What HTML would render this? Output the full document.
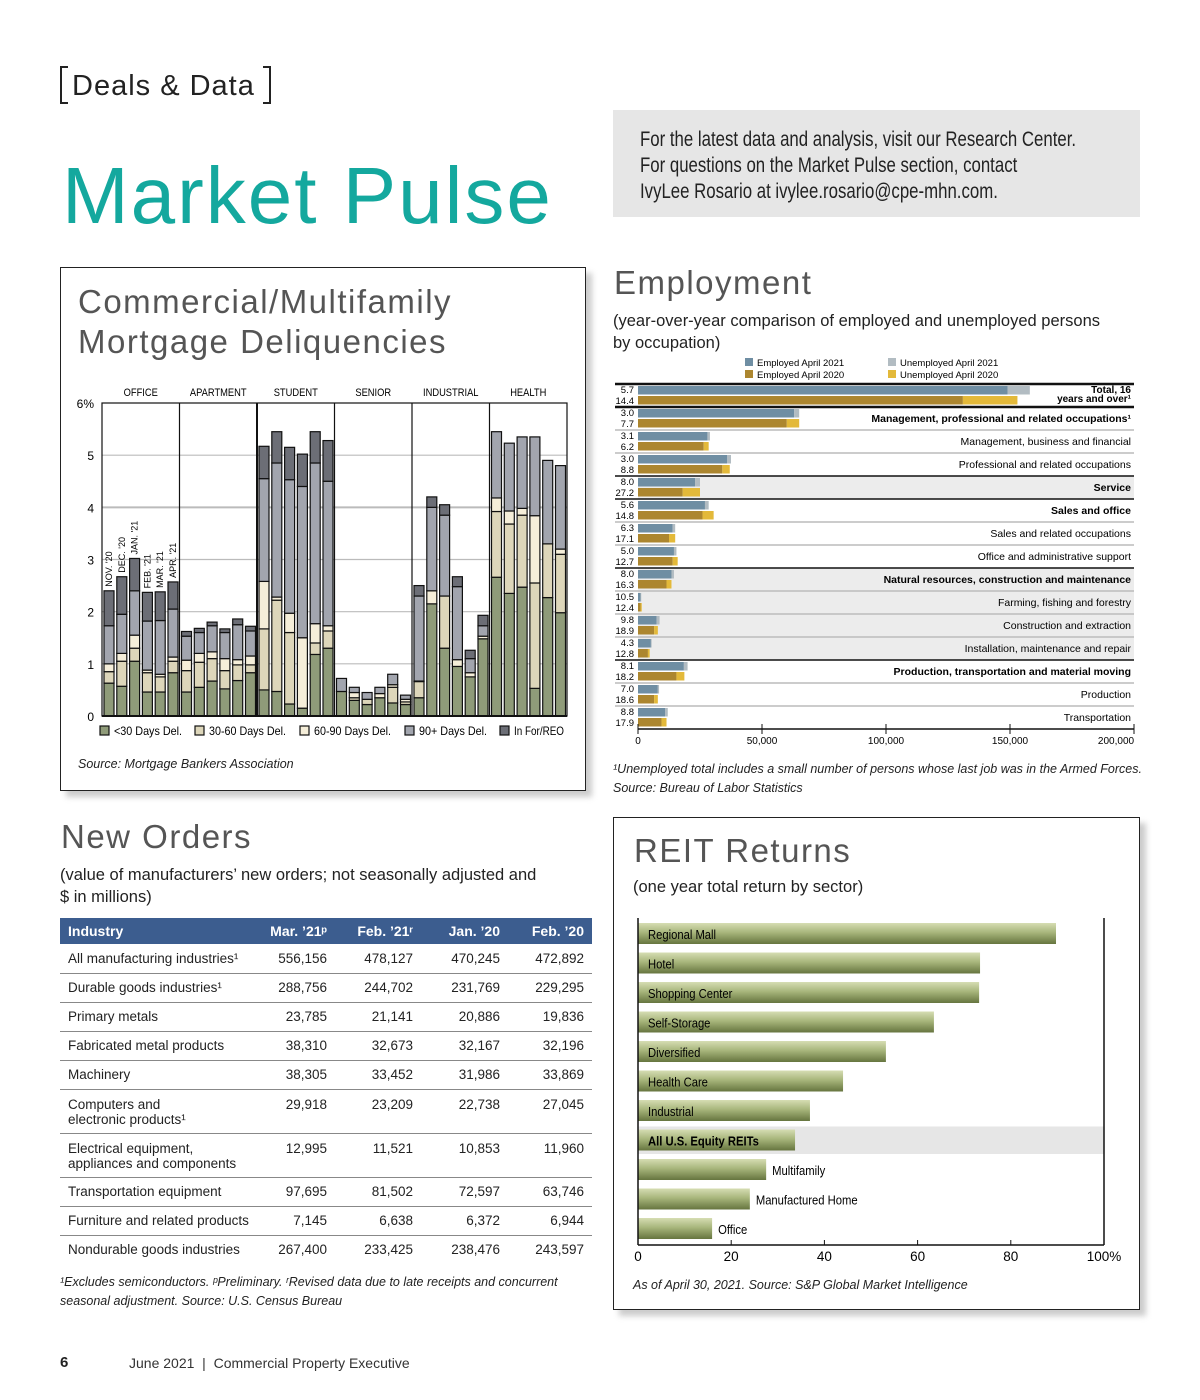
<!DOCTYPE html>
<html><head><meta charset="utf-8"><style>
*{margin:0;padding:0;box-sizing:border-box}
body{width:1200px;height:1400px;background:#fff;position:relative;font-family:"Liberation Sans",sans-serif;color:#222;overflow:hidden}
.abs{position:absolute}
table{border-collapse:collapse;table-layout:fixed}
</style></head><body>
<div class="abs" style="left:60px;top:66px;width:211px;height:38px;border-left:2px solid #222;border-right:2px solid #222;font-size:29px;line-height:40px;padding-left:10px;letter-spacing:1px;white-space:nowrap">Deals &amp; Data</div>
<div class="abs" style="left:60px;top:66px;width:8px;border-top:2px solid #222"></div><div class="abs" style="left:60px;top:102px;width:8px;border-top:2px solid #222"></div>
<div class="abs" style="left:263px;top:66px;width:8px;border-top:2px solid #222"></div><div class="abs" style="left:263px;top:102px;width:8px;border-top:2px solid #222"></div>
<div class="abs" style="left:62px;top:148px;font-size:80px;color:#14a89e;letter-spacing:2px;line-height:95px">Market Pulse</div>
<div class="abs" style="left:613px;top:110px;width:527px;height:107px;background:#e6e6e6"></div>
<div class="abs" style="left:640px;top:127px;font-size:21px;line-height:26px;color:#222;white-space:nowrap;transform:scaleX(0.8);transform-origin:0 0">For the latest data and analysis, visit our Research Center.<br>For questions on the Market Pulse section, contact<br>IvyLee Rosario at ivylee.rosario@cpe-mhn.com.</div>

<!-- Delinquency panel -->
<div class="abs" style="left:66px;top:273px;width:526px;height:524px;background:#ccc;filter:blur(3px)"></div>
<div class="abs" style="left:60px;top:267px;width:526px;height:524px;background:#fff;border:1.5px solid #222"></div>
<div class="abs" style="left:78px;top:282px;font-size:33px;line-height:40px;color:#555;letter-spacing:1.5px">Commercial/Multifamily<br>Mortgage Deliquencies</div>
<svg class="abs" id="delsvg" style="left:0;top:0" width="600" height="800"></svg>
<div class="abs" style="left:78px;top:757px;font-size:12.5px;font-style:italic">Source: Mortgage Bankers Association</div>

<!-- Employment -->
<div class="abs" style="left:614px;top:264px;font-size:33px;color:#555;letter-spacing:1.5px">Employment</div>
<div class="abs" style="left:613px;top:310px;font-size:16.5px;line-height:22px">(year-over-year comparison of employed and unemployed persons<br>by occupation)</div>
<svg class="abs" id="empsvg" style="left:0;top:0" width="1200" height="760"></svg>
<div class="abs" style="left:613px;top:760px;font-size:12.5px;font-style:italic;line-height:19px">¹Unemployed total includes a small number of persons whose last job was in the Armed Forces.<br>Source: Bureau of Labor Statistics</div>

<!-- New orders -->
<div class="abs" style="left:61px;top:818px;font-size:33px;color:#555;letter-spacing:1.5px">New Orders</div>
<div class="abs" style="left:60px;top:864px;font-size:16.5px;line-height:22px">(value of manufacturers’ new orders; not seasonally adjusted and<br>$ in millions)</div>
<table class="abs" style="left:60px;top:918px;width:532px;font-size:13.5px">
<colgroup><col style="width:200px"><col style="width:75px"><col style="width:86px"><col style="width:87px"><col style="width:84px"></colgroup>
<thead><tr style="background:#3c5d8f;color:#fff;font-weight:bold;height:26px;font-size:14px">
<td style="padding-left:8px">Industry</td><td style="text-align:right;padding-right:8px">Mar. ’21ᵖ</td><td style="text-align:right;padding-right:8px">Feb. ’21ʳ</td><td style="text-align:right;padding-right:8px">Jan. ’20</td><td style="text-align:right;padding-right:8px">Feb. ’20</td></tr></thead>
<tbody id="ordbody"></tbody></table>
<div class="abs" style="left:60px;top:1273px;font-size:12.5px;font-style:italic;line-height:19px">¹Excludes semiconductors. ᵖPreliminary. ʳRevised data due to late receipts and concurrent<br>seasonal adjustment. Source: U.S. Census Bureau</div>

<!-- REIT -->
<div class="abs" style="left:619px;top:823px;width:527px;height:493px;background:#ccc;filter:blur(3px)"></div>
<div class="abs" style="left:613px;top:817px;width:527px;height:493px;background:#fff;border:1.5px solid #222"></div>
<div class="abs" style="left:634px;top:832px;font-size:33px;color:#555;letter-spacing:1.5px">REIT Returns</div>
<div class="abs" style="left:633px;top:878px;font-size:16.5px">(one year total return by sector)</div>
<svg class="abs" id="reitsvg" style="left:0;top:0" width="1200" height="1280"></svg>
<div class="abs" style="left:633px;top:1278px;font-size:12.5px;font-style:italic">As of April 30, 2021. Source: S&amp;P Global Market Intelligence</div>

<div class="abs" style="left:60px;top:1354px;font-size:15px;font-weight:bold">6</div>
<div class="abs" style="left:129px;top:1355px;font-size:14px;color:#333">June 2021 &nbsp;|&nbsp; Commercial Property Executive</div>

<script>
const NS="http://www.w3.org/2000/svg";
function mk(p,t,a){const e=document.createElementNS(NS,t);for(const k in a)e.setAttribute(k,a[k]);p.appendChild(e);return e;}

// ===== Delinquency data =====
const delGroups=["OFFICE","APARTMENT","STUDENT","SENIOR","INDUSTRIAL","HEALTH"];
const delMonths=["NOV. '20","DEC. '20","JAN. '21","FEB. '21","MAR. '21","APR. '21"];
const delSeries=["<30 Days Del.","30-60 Days Del.","60-90 Days Del.","90+ Days Del.","In For/REO"];
const under30=[.63,.57,1.05,.46,.46,.83, .46,.55,.67,.52,.68,.83, .5,.47,.23,.15,1.18,1.3, .47,.3,.22,.35,.25,.22, .35,2.15,1.3,.95,.75,1.48, 2.66,2.35,2.47,.53,2.27,1.98];
const d30to60=[.22,.48,.25,.37,.29,.22, .41,.48,.43,.35,.3,.15, 1.17,1.75,1.37,0,.22,.33, 0,.05,.1,0,.3,.05, .31,0,1.0,0,0,0, 1.26,1.33,1.38,2.02,1.03,1.12];
const d60to90=[.15,.15,.25,.05,.05,.08, .2,.17,.13,.23,.1,.17, .91,.06,.37,1.35,.37,.1, 0,.1,0,.08,.05,.05, .01,.25,0,.13,.08,.05, .26,.25,.13,1.29,0,.1];
const d90plus=[.73,.75,.85,.94,1.03,.92, .46,.4,.5,.5,.67,.48, 1.97,2.57,2.56,2.9,3.08,2.77, .25,.1,.13,.12,.2,.08, 1.63,1.6,1.55,1.4,.27,.2, 1.27,1.3,1.37,1.51,1.6,1.6];
const reo=[.67,.72,.62,.55,.55,.52, .09,.08,.07,.07,.11,.09, .62,.6,.62,.62,.6,.78, 0,0,0,0,0,0, .2,.2,.2,.19,.16,.2, 0,0,0,0,0,0];
const delTicks=[0,1,2,3,4,5,6];
const delColors=["#8f9b79","#ddd6ba","#f5eed9","#a2a5ae","#6c6e76"];
(function(){
 const s=document.getElementById('delsvg');
 const X0=102,X1=567,Y0=716,Y1=403;
 const y=v=>Y0-(v/6)*(Y0-Y1);
 const gw=(X1-X0)/delGroups.length;
 const bx=i=>X0+Math.floor(i/6)*gw+2+(i%6)*12.8;
 delTicks.forEach(t=>{
  if(t>0&&t<6){const l=mk(s,'line',{x1:X0,x2:X1,y1:y(t),y2:y(t),stroke:'#bbb','stroke-width':t==4?2:1.2});
  
  }
  const tx=mk(s,'text',{x:94,y:y(t)+5,'text-anchor':'end','font-size':12});
  tx.textContent=t==6?'6%':t;
  
  
 });
 mk(s,'rect',{x:X0,y:Y1,width:X1-X0,height:Y0-Y1,fill:'none',stroke:'#111','stroke-width':1.2});
 delGroups.forEach((g,i)=>{
  if(i>0){const l=mk(s,'line',{x1:X0+i*gw,x2:X0+i*gw,y1:Y1,y2:Y0,stroke:'#111','stroke-width':i==2?2:1.2});
  
  }
  const t=mk(s,'text',{x:X0+i*gw+gw/2,y:396,'text-anchor':'middle','font-size':11,transform:`translate(${(X0+i*gw+gw/2)*0.15} 0) scale(0.85 1)`});
  t.textContent=g;
  
  
 });
 const series=[under30,d30to60,d60to90,d90plus,reo];
 for(let i=0;i<under30.length;i++){
  let cum=0;
  series.forEach((arr,k)=>{
   const v=arr[i]; if(v<=0){return;}
   const r=mk(s,'rect',{x:bx(i),y:y(cum+v),width:10,height:y(cum)-y(cum+v),fill:delColors[k],stroke:'#111','stroke-width':1.2});
   
   
   cum+=v;
  });
  if(i<6){const tx=bx(i)+8,ty=y(cum)-4;
   const t=mk(s,'text',{x:tx,y:ty,transform:`rotate(-90 ${tx} ${ty})`,'font-size':9});
   t.textContent=delMonths[i];
   
   }
 }
 mk(s,'line',{x1:X0,x2:X1,y1:Y0,y2:Y0,stroke:'#111','stroke-width':2});
 const lx=[100,195,300,405,500];
 const lw=[68,77,77,68,50];
 delSeries.forEach((n,k)=>{
  const r=mk(s,'rect',{x:lx[k],y:726,width:9,height:9,fill:delColors[k],stroke:'#111','stroke-width':1.2});
  
  
  const t=mk(s,'text',{x:lx[k]+14,y:735,'font-size':12,textLength:lw[k],lengthAdjust:'spacingAndGlyphs'});
  t.textContent=n;
  
  
 });
})();

// ===== Employment data =====
const empCats=["Total, 16|years and over¹","Management, professional and related occupations¹","Management, business and financial","Professional and related occupations","Service","Sales and office","Sales and related occupations","Office and administrative support","Natural resources, construction and maintenance","Farming, fishing and forestry","Construction and extraction","Installation, maintenance and repair","Production, transportation and material moving","Production","Transportation"];
const emp2021=[149,63,28,36,23,27,14,14.5,13.5,1,7.5,5.2,18.5,8,11];
const unemp2021=[9,2,1,1.5,2,1.5,1,1,1,.3,1.2,.3,1.5,.5,1];
const emp2020=[131,60,26.5,34,18,26,12.5,14,11.5,1,6.5,4,15.5,6.5,9.5];
const unemp2020=[22,5,2,3,7,4.5,2.5,2,2,.5,1.5,.7,3.2,1.5,2];
const rate2021=["5.7","3.0","3.1","3.0","8.0","5.6","6.3","5.0","8.0","10.5","9.8","4.3","8.1","7.0","8.8"];
const rate2020=["14.4","7.7","6.2","8.8","27.2","14.8","17.1","12.7","16.3","12.4","18.9","12.8","18.2","18.6","17.9"];
const empTicks=[0,50000,100000,150000,200000];
const empBold=[0,1,4,5,8,12];
const empShade=[4,8,9,10,11];
(function(){
 const s=document.getElementById('empsvg');
 const X0=638,X1=1134,T=384,RH=23;
 const x=v=>X0+(v/200)*(X1-X0);
 const lg=[["#6f8ea3","Employed April 2021",745,358],["#ac862f","Employed April 2020",745,370],["#b2bcc2","Unemployed April 2021",888,358],["#e3b93a","Unemployed April 2020",888,370]];
 lg.forEach(l=>{const r=mk(s,'rect',{x:l[2],y:l[3],width:8,height:8,fill:l[0]});
  
  
  const t=mk(s,'text',{x:l[2]+12,y:l[3]+8,'font-size':9.5});t.textContent=l[1];
  
  });
 empCats.forEach((c,r)=>{
  const top=T+r*RH;
  if(empShade.includes(r)){const b=mk(s,'rect',{x:638,y:top,width:496,height:RH,fill:'#ececec'});
   
   }
  const heavy=empBold.includes(r);
  const ln=mk(s,'line',{x1:615,x2:1134,y1:top,y2:top,stroke:heavy?'#111':'#bbb','stroke-width':heavy?(r==0||r==1?2.5:1.5):1.5});
  
  
  const bars=[[0,emp2021[r],'#6f8ea3',top+2],[emp2021[r],emp2021[r]+unemp2021[r],'#b2bcc2',top+2],[0,emp2020[r],'#ac862f',top+12],[emp2020[r],emp2020[r]+unemp2020[r],'#e3b93a',top+12]];
  bars.forEach(b=>{const e=mk(s,'rect',{x:x(b[0]),y:b[3],width:x(b[1])-x(b[0]),height:8.5,fill:b[2]});
   
   });
  [[rate2021[r],top+9],[rate2020[r],top+20]].forEach(q=>{const t=mk(s,'text',{x:634,y:q[1],'text-anchor':'end','font-size':9.5});t.textContent=q[0];
   
   });
  const parts=c.split('|');
  parts.forEach((p,j)=>{const t=mk(s,'text',{x:1131,y:parts.length>1?top+9+j*9:top+15,'text-anchor':'end','font-size':parts.length>1?10:10.5,'font-weight':empBold.includes(r)?'bold':'normal'});t.textContent=p;
   
   });
 });
 mk(s,'line',{x1:X0,x2:X1,y1:729,y2:729,stroke:'#111','stroke-width':1.5});
 empTicks.forEach(v=>{const l=mk(s,'line',{x1:x(v/1000),x2:x(v/1000),y1:724,y2:734,stroke:'#111'});
  
  
  const t=mk(s,'text',{x:x(v/1000)-(v==200000?18:0),y:744,'text-anchor':'middle','font-size':10});t.textContent=v.toLocaleString('en-US');
  
  });
})();

// ===== New orders =====
const ordRows=[["All manufacturing industries¹","556,156","478,127","470,245","472,892"],["Durable goods industries¹","288,756","244,702","231,769","229,295"],["Primary metals","23,785","21,141","20,886","19,836"],["Fabricated metal products","38,310","32,673","32,167","32,196"],["Machinery","38,305","33,452","31,986","33,869"],["Computers and<br>electronic products¹","29,918","23,209","22,738","27,045"],["Electrical equipment,<br>appliances and components","12,995","11,521","10,853","11,960"],["Transportation equipment","97,695","81,502","72,597","63,746"],["Furniture and related products","7,145","6,638","6,372","6,944"],["Nondurable goods industries","267,400","233,425","238,476","243,597"]];
(function(){
 const tb=document.getElementById('ordbody');
 ordRows.forEach((r,i)=>{
  const tr=document.createElement('tr');
  
  
  const tall=r[0].includes('<br>');
  tr.style.height=tall?'44px':'29px';
  tr.style.borderBottom=i<ordRows.length-1?'1px solid #888':'none';
  tr.style.verticalAlign=tall?'top':'middle';
  r.forEach((c,j)=>{const td=document.createElement('td');td.innerHTML=c;td.style.lineHeight='15px';td.style.whiteSpace='nowrap';
   if(tall)td.style.paddingTop='7px';
   if(j==0){td.style.paddingLeft='8px';}else{td.style.textAlign='right';td.style.paddingRight='8px';}
   tr.appendChild(td);});
  tb.appendChild(tr);
 });
})();

// ===== REIT =====
const reitCats=["Regional Mall","Hotel","Shopping Center","Self-Storage","Diversified","Health Care","Industrial","All U.S. Equity REITs","Multifamily","Manufactured Home","Office"];
const reitVals=[89.7,73.4,73.2,63.5,53.2,44,36.9,33.7,27.5,24,15.9];
const reitTicks=[0,20,40,60,80,100];
(function(){
 const s=document.getElementById('reitsvg');
 const d=mk(s,'defs',{});
 const g=mk(d,'linearGradient',{id:'rg',x1:0,y1:0,x2:0,y2:1});
 mk(g,'stop',{offset:0,'stop-color':'#d6ddb3'});mk(g,'stop',{offset:0.45,'stop-color':'#a8b67c'});mk(g,'stop',{offset:1,'stop-color':'#66753f'});
 const X0=638,X1=1104;const x=v=>X0+v/100*(X1-X0);
 const T=923,RH=29.5;
 mk(s,'rect',{x:X0,y:T+7*RH-3,width:X1-X0,height:RH-2,fill:'#e6e6e6'});
 reitCats.forEach((c,i)=>{
  const y=T+i*RH;
  const b=mk(s,'rect',{x:X0,y:y,width:x(reitVals[i])-X0,height:21,fill:'url(#rg)'});
  
  
  const outside=x(reitVals[i])-X0<130;
  const t=mk(s,'text',{x:outside?x(reitVals[i])+6:X0+10,y:y+16,'font-size':12.5,'font-weight':i==7?'bold':'normal',transform:`translate(${(outside?x(reitVals[i])+6:X0+10)*0.1} 0) scale(0.9 1)`});
  t.textContent=c;
  
  
 });
 mk(s,'line',{x1:X0,x2:X0,y1:918,y2:1245,stroke:'#111','stroke-width':1.5});
 mk(s,'line',{x1:X1,x2:X1,y1:918,y2:1245,stroke:'#111','stroke-width':1.5});
 mk(s,'line',{x1:X0,x2:X1,y1:1245,y2:1245,stroke:'#111','stroke-width':1.5});
 reitTicks.forEach(v=>{const l=mk(s,'line',{x1:x(v),x2:x(v),y1:1240,y2:1245,stroke:'#111'});
  
  
  const t=mk(s,'text',{x:x(v),y:1261,'text-anchor':'middle','font-size':13.5});t.textContent=v==100?'100%':v;
  
  });
})();
</script>
</body></html>
